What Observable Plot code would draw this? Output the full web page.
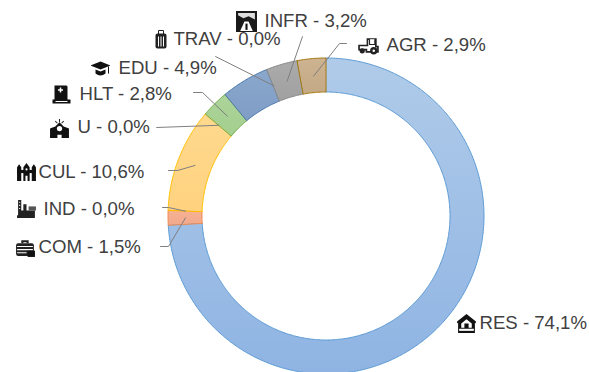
<!DOCTYPE html>
<html>
<head>
<meta charset="utf-8">
<style>html,body{margin:0;padding:0;background:#fff}svg{display:block}</style>
<script src="https://cdn.jsdelivr.net/npm/d3@7"></script>
<script src="https://cdn.jsdelivr.net/npm/@observablehq/plot@0.6"></script>
</head>
<body>
<div id="chart"></div>
<script>
// Data
const categories = ["RES","COM","IND","CUL","U","HLT","EDU","TRAV","INFR","AGR"];
const shares = [74.1,1.5,0,10.6,0,2.8,4.9,0,3.2,2.9];
const shareLabels = ["74,1%","1,5%","0,0%","10,6%","0,0%","2,8%","4,9%","0,0%","3,2%","2,9%"];

// Styles
const strokes = ["#5b9bd5","#f08a50","#a5a5a5","#ffc000","#4472c4","#70ad47","#4a78ad","#636363","#8a8a8a","#a6780f"];
const gradTop = ["#b0cbe9","#f6b193","#cccccc","#ffd98f","#b0c0e0","#add39a","#8aa7cc","#999999","#ababab","#ceb392"];
const gradBottom = ["#8fb4e3","#f2a98c","#c0c0c0","#ffd27f","#a0b0d0","#a3cf8f","#7f9dc6","#8f8f8f","#a0a0a0","#c4a985"];

// Layout
const cx = 326, cy = 216, outerR = 158, innerR = 124, midR = 141;
const textX = [479,38,43,38,77,79,118,173,264,386];
const textY = [323,247,209,172,127,94,68,39,21,45];
const iconX = [466,25,26,26,59,61,100,160,246,368];
const iconY = [323,247,208,171,128,94,68,39,21,45];
const iconSize = [21,21,21,21,21,20,20,20,21,21];
// leader start and bend points, null where no leader is drawn
const leaderStartX = [null,160,162,168,156,193,null,215,302,346];
const leaderStartY = [null,246,207,170,127,92,null,56,36,43];
const leaderBendX = [null,168,168,177,156,202,null,215,302,339];
const leaderBendY = [null,246,207,170,127,92,null,56,36,43];

const icon = body => "data:image/svg+xml;utf8," + encodeURIComponent(
  `<svg xmlns="http://www.w3.org/2000/svg" viewBox="0 0 20 20">${body}</svg>`);
const iconBodies = [
  // RES
  `<path d="M10 1L1 8v2l1-1v10h16V9l1 1V8z" fill="#111"/><path d="M5 10l5-4 5 4v4H5z" fill="#fff"/><rect x="8" y="10" width="4" height="5" fill="#111"/><rect x="3" y="15" width="14" height="2" fill="#fff"/>`,
  // COM
  `<path d="M6 6V3h7v3h-2V5H8v1z" fill="#222"/><rect x="1" y="6" width="17" height="12" rx="2" fill="#222"/><path d="M2 9h15M2 12h15M2 15h9" stroke="#fff"/><rect x="12" y="13" width="7" height="6" fill="#111"/>`,
  // IND
  `<path d="M2 2h3v10h2V6h3v6h8v7H1v-2l1-1z" fill="#222"/><path d="M12 8h7v4h-7z" fill="#555"/><path d="M3 4h1M3 7h1M3 10h1" stroke="#fff"/>`,
  // CUL
  `<path d="M1 6l2-3 2 3v13H1zM7 6l3-4 3 4v13h-2v-5H9v5H7zM15 6l2-3 2 3v13h-4z" fill="#111"/><path d="M1 10h18" stroke="#111" stroke-width="3"/><circle cx="10" cy="8" r="1" fill="#fff"/>`,
  // U
  `<path d="M10 1v3M6 3l2 2M14 3l-2 2" stroke="#222"/><path d="M1 10l5-2 4-4 4 4 5 2v9h-7v-3H8v3H1z" fill="#111"/><circle cx="10" cy="10" r="2.5" fill="#fff"/>`,
  // HLT
  `<path d="M3 1h12l1 1v13h3v4H1v-4h2z" fill="#111"/><path d="M9 3v5M6.5 5.500h5" stroke="#fff" stroke-width="1.500"/><path d="M4 17h12" stroke="#fff"/>`,
  // EDU
  `<path d="M0 7l10-4 10 4-10 4z" fill="#111"/><path d="M5 11v4q5 4 10 0v-4l-5 2z" fill="#111"/><path d="M18 8v7" stroke="#111"/>`,
  // TRAV
  `<rect x="5" y="4" width="11" height="15" rx="2" fill="#222"/><path d="M8 5V1h5v4" fill="none" stroke="#222"/><path d="M8 7v10M10.500 7v10M13 7v10" stroke="#fff"/>`,
  // INFR
  `<rect x="0" y="0" width="20" height="20" fill="#1a1a1a"/><path d="M2 2h16v6L12 5 7 7l-5-3z" fill="#ddd"/><path d="M8 10h4l4 9H4z" fill="#fff"/><path d="M10 12v6" stroke="#111" stroke-width="2"/>`,
  // AGR
  `<path d="M9 4h8v7h2v5H8v-2H1v-4h8z" fill="none" stroke="#222" stroke-width="1.600"/><path d="M11 4v5h5V4" fill="#fff" stroke="#222"/><circle cx="4" cy="15" r="2.500" fill="#222"/><circle cx="15" cy="15" r="3.500" fill="#222"/><circle cx="15" cy="15" r="1.200" fill="#fff"/>`
];

const total = d3.sum(shares);
const ends = d3.cumsum(shares);
const angleAt = p => p / total * 2 * Math.PI;
const polarX = (a, r) => cx + r * Math.sin(a);
const polarY = (a, r) => cy - r * Math.cos(a);

// One polygon outline per non-empty slice, built from the share values
const wedges = categories.map((c, i) => {
  const a0 = angleAt(ends[i] - shares[i]), a1 = angleAt(ends[i]);
  const n = Math.max(2, Math.ceil((a1 - a0) / 0.01));
  return d3.range(n + 1).map(k => {
    const a = a0 + (a1 - a0) * k / n;
    return {x1: polarX(a, innerR), y1: polarY(a, innerR), x2: polarX(a, outerR), y2: polarY(a, outerR)};
  });
});

const labels = categories.map((c, i) => ({
  text: `${c} - ${shareLabels[i]}`, x: textX[i], y: textY[i],
  ix: iconX[i], iy: iconY[i], size: iconSize[i], src: icon(iconBodies[i])
}));

const leaders = categories.flatMap((c, i) => {
  if (leaderStartX[i] == null) return [];
  const mid = angleAt(ends[i] - shares[i] / 2);
  return [
    {c, x: leaderStartX[i], y: leaderStartY[i]},
    {c, x: leaderBendX[i], y: leaderBendY[i]},
    {c, x: polarX(mid, midR), y: polarY(mid, midR)}
  ];
});

const gradients = () => {
  const defs = d3.create("svg:defs");
  categories.forEach((c, i) => {
    const g = defs.append("linearGradient").attr("id", `grad-${c}`)
      .attr("x1", 0).attr("y1", 0).attr("x2", 0).attr("y2", 1);
    g.append("stop").attr("offset", "0%").attr("stop-color", gradTop[i]);
    g.append("stop").attr("offset", "100%").attr("stop-color", gradBottom[i]);
  });
  return defs.node();
};

const chart = Plot.plot({
  width: 589, height: 372,
  marginTop: 0, marginRight: 0, marginBottom: 0, marginLeft: 0,
  x: {domain: [0, 589], range: [0, 589], axis: null},
  y: {domain: [0, 372], range: [0, 372], axis: null},
  style: {background: "#fff", fontFamily: "'Liberation Sans', Arial, sans-serif"},
  marks: [
    gradients,
    ...categories.map((c, i) => shares[i] > 0 ? Plot.area(wedges[i], {
      x1: "x1", y1: "y1", x2: "x2", y2: "y2",
      fill: `url(#grad-${c})`, stroke: strokes[i], strokeWidth: 1
    }) : null),
    Plot.line(leaders, {x: "x", y: "y", z: "c", stroke: "#7f7f7f", strokeWidth: 1}),
    Plot.image(labels, {x: "ix", y: "iy", width: "size", height: "size", src: "src"}),
    Plot.text(labels, {x: "x", y: "y", text: "text", textAnchor: "start", fontSize: 18.6, fill: "#404040", lineAnchor: "middle"})
  ]
});
document.getElementById("chart").append(chart);
</script>
</body>
</html>
